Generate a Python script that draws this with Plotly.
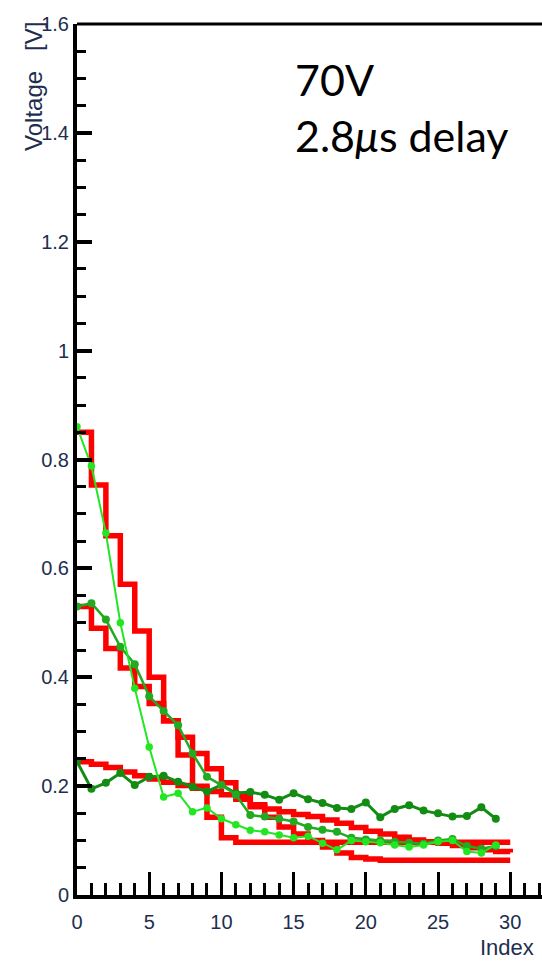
import plotly.graph_objects as go

# ---------------- data ----------------
idx_pts = list(range(30))          # measured points 0..29
idx_step = list(range(31))         # step (model) lines 0..30

v_lime = [0.86, 0.788, 0.665, 0.50, 0.38, 0.272, 0.18, 0.187, 0.153, 0.16,
          0.14, 0.129, 0.119, 0.116, 0.11, 0.105, 0.108, 0.095, 0.083, 0.10,
          0.098, 0.096, 0.092, 0.088, 0.092, 0.098, 0.10, 0.08, 0.077, 0.092]

v_mid = [0.53, 0.536, 0.506, 0.456, 0.424, 0.365, 0.338, 0.312, 0.26, 0.217,
         0.202, 0.184, 0.147, 0.144, 0.14, 0.135, 0.125, 0.12, 0.116, 0.105,
         0.102, 0.10, 0.098, 0.096, 0.094, 0.10, 0.103, 0.09, 0.085, 0.09]

v_dark = [0.245, 0.195, 0.206, 0.224, 0.202, 0.217, 0.219, 0.208, 0.199, 0.19,
          0.202, 0.187, 0.189, 0.184, 0.175, 0.187, 0.176, 0.169, 0.16, 0.158,
          0.17, 0.143, 0.158, 0.165, 0.155, 0.15, 0.144, 0.145, 0.161, 0.14]

r_fast = [0.85, 0.753, 0.66, 0.571, 0.485, 0.40, 0.32, 0.257, 0.20, 0.143,
          0.105, 0.097, 0.097, 0.097, 0.097, 0.097, 0.097, 0.097, 0.097, 0.097,
          0.097, 0.097, 0.097, 0.097, 0.097, 0.097, 0.097, 0.097, 0.097, 0.097,
          0.097]

r_mid = [0.53, 0.49, 0.453, 0.417, 0.383, 0.352, 0.32, 0.29, 0.26, 0.232,
         0.206, 0.185, 0.162, 0.143, 0.125, 0.112, 0.10, 0.088, 0.077, 0.069,
         0.066, 0.064, 0.064, 0.064, 0.064, 0.064, 0.064, 0.064, 0.064, 0.064,
         0.064]

r_slow = [0.245, 0.24, 0.234, 0.226, 0.219, 0.213, 0.207, 0.201, 0.196, 0.19,
          0.184, 0.176, 0.166, 0.158, 0.153, 0.148, 0.144, 0.138, 0.132, 0.124,
          0.117, 0.112, 0.106, 0.101, 0.098, 0.095, 0.091, 0.087, 0.083, 0.08,
          0.078]

x_ticks = [0, 5, 10, 15, 20, 25, 30]
y_ticks = [0, 0.2, 0.4, 0.6, 0.8, 1.0, 1.2, 1.4, 1.6]
y_tick_text = ["0", "0.2", "0.4", "0.6", "0.8", "1", "1.2", "1.4", "1.6"]

RED = "#ff0000"
LIME = "#22e622"
MID = "#22aa22"
DARK = "#138c13"
LABEL = "#1e2e4e"

fig = go.Figure()

for r in (r_slow, r_mid, r_fast):
    fig.add_trace(go.Scatter(x=idx_step, y=r, mode="lines", line_shape="hv",
                             line=dict(color=RED, width=5.5), cliponaxis=False,
                             showlegend=False, hoverinfo="skip"))

fig.add_trace(go.Scatter(x=idx_pts, y=v_dark, mode="lines+markers",
                         line=dict(color=DARK, width=3), marker=dict(color=DARK, size=8),
                         cliponaxis=False, showlegend=False))
fig.add_trace(go.Scatter(x=idx_pts, y=v_mid, mode="lines+markers",
                         line=dict(color=MID, width=2.5), marker=dict(color=MID, size=8),
                         cliponaxis=False, showlegend=False))
fig.add_trace(go.Scatter(x=idx_pts, y=v_lime, mode="lines+markers",
                         line=dict(color=LIME, width=2), marker=dict(color=LIME, size=7.5),
                         cliponaxis=False, showlegend=False))

fig.update_layout(
    width=542, height=961,
    margin=dict(l=77, r=0, t=24, b=66),
    paper_bgcolor="white", plot_bgcolor="white",
    font=dict(family="Liberation Sans, Arial, sans-serif", color=LABEL),
    xaxis=dict(range=[0, 32.2], tickvals=x_ticks, ticks="inside", ticklen=23,
               tickwidth=3, tickcolor="black", showgrid=False, zeroline=False,
               showline=True, linecolor="black", linewidth=4,
               tickfont=dict(size=20, color=LABEL), ticklabelstandoff=6,
               minor=dict(dtick=1, ticks="inside", ticklen=12, tickwidth=3,
                          tickcolor="black", showgrid=False)),
    yaxis=dict(range=[0, 1.6], tickvals=y_ticks, ticktext=y_tick_text,
               ticks="inside", ticklen=15, tickwidth=4, tickcolor="black",
               showgrid=False, zeroline=False, showline=True, linecolor="black",
               linewidth=4, tickfont=dict(size=20, color=LABEL), ticklabelstandoff=0,
               minor=dict(dtick=0.05, ticks="inside", ticklen=9, tickwidth=3,
                          tickcolor="black", showgrid=False)),
    shapes=[dict(type="line", xref="paper", yref="paper", x0=0, x1=1, y0=1, y1=1,
                 line=dict(color="black", width=3))],
    annotations=[
        dict(text="Voltage\u00a0\u00a0\u00a0[V]", xref="paper", yref="paper",
             x=-0.095, y=1.005, xanchor="center", yanchor="top", textangle=-90,
             showarrow=False, font=dict(size=24, color=LABEL)),
        dict(text="Index", xref="paper", yref="paper", x=0.985, y=-0.0755,
             xanchor="right", yanchor="bottom", showarrow=False, borderpad=0,
             font=dict(size=22, color=LABEL)),
        dict(text="70V<br>2.8<i>\u03bc</i>s delay", xref="paper", yref="paper",
             x=0.465, y=0.968, xanchor="left", yanchor="top", align="left",
             showarrow=False, font=dict(family="Lato, sans-serif", size=43, color="black")),
    ],
)

fig.write_html("out.html")
